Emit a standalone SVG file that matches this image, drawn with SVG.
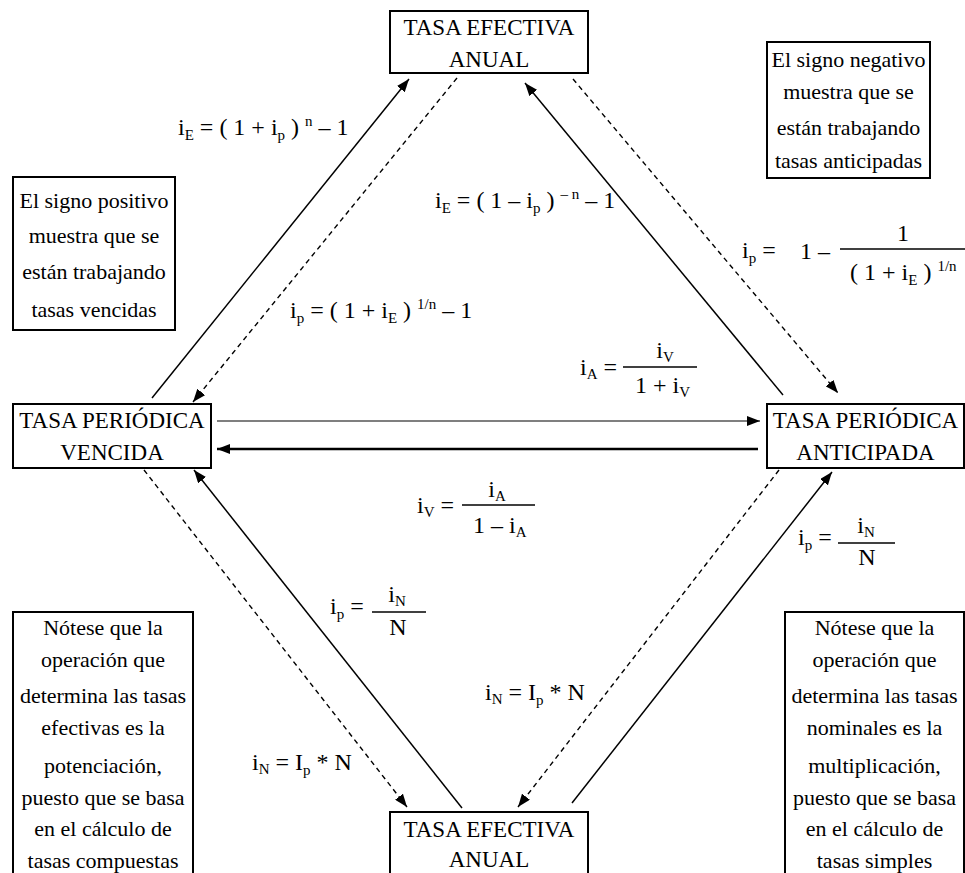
<svg xmlns="http://www.w3.org/2000/svg" width="965" height="873" viewBox="0 0 965 873" font-family="'Liberation Serif', 'Times New Roman', serif">
<style>
  text { font-family: "Liberation Serif", "Times New Roman", serif; fill: #000; }
  .box { fill: #fff; stroke: #000; stroke-width: 2; }
  .t { font-size: 23px; text-anchor: middle; }
  .n { font-size: 22px; text-anchor: middle; }
  .f { font-size: 24px; }
  .fm { font-size: 24px; text-anchor: middle; }
  .s { font-size: 15px; }
  .sol { stroke: #000; stroke-width: 1.5; fill: none; }
  .dash { stroke: #000; stroke-width: 1.4; stroke-dasharray: 5 4; fill: none; }
  .bar { stroke: #000; stroke-width: 1.6; }
</style>
<defs>
  <marker id="ah" markerUnits="userSpaceOnUse" markerWidth="13" markerHeight="10" refX="13" refY="5" orient="auto">
    <path d="M0,0 L13,5 L0,10 z" fill="#000"/>
  </marker>
</defs>
<rect width="965" height="873" fill="#fff"/>

<g id="connectors">
  <line class="sol" x1="152" y1="398" x2="409" y2="79" marker-end="url(#ah)"/>
  <line class="dash" x1="457" y1="78" x2="193" y2="402" marker-end="url(#ah)"/>
  <line class="sol" x1="783" y1="395" x2="525" y2="83" marker-end="url(#ah)"/>
  <line class="dash" x1="573" y1="79" x2="838" y2="393" marker-end="url(#ah)"/>
  <line x1="217" y1="421" x2="760" y2="421" stroke="#555" stroke-width="1.6" marker-end="url(#ah)"/>
  <line x1="758" y1="449" x2="217" y2="449" stroke="#000" stroke-width="2.6" marker-end="url(#ah)"/>
  <line class="dash" x1="144" y1="470" x2="407" y2="807" marker-end="url(#ah)"/>
  <line class="sol" x1="462" y1="808" x2="194" y2="470" marker-end="url(#ah)"/>
  <line class="dash" x1="779" y1="470" x2="518" y2="807" marker-end="url(#ah)"/>
  <line class="sol" x1="572" y1="803" x2="832" y2="472" marker-end="url(#ah)"/>
</g>

<g id="tasa-efectiva-anual-top">
  <rect class="box" x="390" y="11" width="198" height="62"/>
  <text class="t" x="489" y="35">TASA EFECTIVA</text>
  <text class="t" x="489" y="67">ANUAL</text>
</g>

<g id="tasa-periodica-vencida">
  <rect class="box" x="13" y="404" width="198" height="64"/>
  <text class="t" x="112" y="428">TASA PERIÓDICA</text>
  <text class="t" x="112" y="460">VENCIDA</text>
</g>

<g id="tasa-periodica-anticipada">
  <rect class="box" x="767" y="404" width="197" height="64"/>
  <text class="t" x="865.5" y="428">TASA PERIÓDICA</text>
  <text class="t" x="865.5" y="460">ANTICIPADA</text>
</g>

<g id="tasa-efectiva-anual-bottom">
  <rect class="box" x="390" y="812" width="198" height="70"/>
  <text class="t" x="489" y="837">TASA EFECTIVA</text>
  <text class="t" x="489" y="867">ANUAL</text>
</g>

<g id="nota-positivo">
  <rect class="box" x="13" y="177" width="162" height="153"/>
  <text class="n" x="94" y="208">El signo positivo</text>
  <text class="n" x="94" y="243">muestra que se</text>
  <text class="n" x="94" y="279">están trabajando</text>
  <text class="n" x="94" y="317">tasas vencidas</text>
</g>

<g id="nota-negativo">
  <rect class="box" x="767" y="42" width="163" height="136"/>
  <text class="n" x="848.5" y="67">El signo negativo</text>
  <text class="n" x="848.5" y="99">muestra que se</text>
  <text class="n" x="848.5" y="135">están trabajando</text>
  <text class="n" x="848.5" y="168">tasas anticipadas</text>
</g>

<g id="nota-potenciacion">
  <rect class="box" x="13" y="612" width="180" height="270"/>
  <text class="n" x="103" y="635">Nótese que la</text>
  <text class="n" x="103" y="667">operación que</text>
  <text class="n" x="103" y="703">determina las tasas</text>
  <text class="n" x="103" y="735">efectivas es la</text>
  <text class="n" x="103" y="773">potenciación,</text>
  <text class="n" x="103" y="805">puesto que se basa</text>
  <text class="n" x="103" y="836">en el cálculo de</text>
  <text class="n" x="103" y="868">tasas compuestas</text>
</g>

<g id="nota-multiplicacion">
  <rect class="box" x="785" y="612" width="179" height="270"/>
  <text class="n" x="874.5" y="635">Nótese que la</text>
  <text class="n" x="874.5" y="667">operación que</text>
  <text class="n" x="874.5" y="703">determina las tasas</text>
  <text class="n" x="874.5" y="735">nominales es la</text>
  <text class="n" x="874.5" y="773">multiplicación,</text>
  <text class="n" x="874.5" y="805">puesto que se basa</text>
  <text class="n" x="874.5" y="836">en el cálculo de</text>
  <text class="n" x="874.5" y="868">tasas simples</text>
</g>

<g id="formula-ie-vencida">
  <text class="f" x="178" y="135">i<tspan class="s" dy="5">E</tspan><tspan dy="-5"> = ( 1 + i</tspan><tspan class="s" dy="5">p</tspan><tspan dy="-5"> ) </tspan><tspan class="s" dy="-9">n</tspan><tspan dy="9"> – 1</tspan></text>
</g>

<g id="formula-ie-anticipada">
  <text class="f" x="435" y="208">i<tspan class="s" dy="5">E</tspan><tspan dy="-5"> = ( 1 – i</tspan><tspan class="s" dy="5">p</tspan><tspan dy="-5"> ) </tspan><tspan class="s" dy="-9">– n</tspan><tspan dy="9"> – 1</tspan></text>
</g>

<g id="formula-ip-vencida">
  <text class="f" x="290" y="318">i<tspan class="s" dy="5">p</tspan><tspan dy="-5"> = ( 1 + i</tspan><tspan class="s" dy="5">E</tspan><tspan dy="-5"> ) </tspan><tspan class="s" dy="-9">1/n</tspan><tspan dy="9"> – 1</tspan></text>
</g>

<g id="formula-ip-anticipada">
  <text class="f" x="742" y="258">i<tspan class="s" dy="5">p</tspan><tspan dy="-5"> =</tspan></text>
  <text class="f" x="800" y="259">1 –</text>
  <line class="bar" x1="840" y1="249" x2="965" y2="249"/>
  <text class="fm" x="903" y="241">1</text>
  <text class="f" x="850" y="280">( 1 + i<tspan class="s" dy="5">E</tspan><tspan dy="-5"> ) </tspan><tspan class="s" dy="-9">1/n</tspan></text>
</g>

<g id="formula-ia">
  <text class="f" x="580" y="375">i<tspan class="s" dy="4">A</tspan><tspan dy="-4"> =</tspan></text>
  <line class="bar" x1="623" y1="367" x2="697" y2="367"/>
  <text class="fm" x="665" y="358">i<tspan class="s" dy="4">V</tspan></text>
  <text class="f" x="635" y="393">1 + i<tspan class="s" dy="4">V</tspan></text>
</g>

<g id="formula-iv">
  <text class="f" x="417" y="513">i<tspan class="s" dy="4">V</tspan><tspan dy="-4"> =</tspan></text>
  <line class="bar" x1="462" y1="505" x2="535" y2="505"/>
  <text class="fm" x="497" y="497">i<tspan class="s" dy="4">A</tspan></text>
  <text class="f" x="473" y="533">1 – i<tspan class="s" dy="4">A</tspan></text>
</g>

<g id="formula-ip-nominal-izq">
  <text class="f" x="330" y="614">i<tspan class="s" dy="5">p</tspan><tspan dy="-5"> =</tspan></text>
  <line class="bar" x1="372" y1="612" x2="426" y2="612"/>
  <text class="fm" x="397" y="602">i<tspan class="s" dy="4">N</tspan></text>
  <text class="fm" x="398" y="635">N</text>
</g>

<g id="formula-ip-nominal-der">
  <text class="f" x="798" y="545">i<tspan class="s" dy="5">p</tspan><tspan dy="-5"> =</tspan></text>
  <line class="bar" x1="838" y1="543" x2="895" y2="543"/>
  <text class="fm" x="866" y="533">i<tspan class="s" dy="4">N</tspan></text>
  <text class="fm" x="867" y="565">N</text>
</g>

<g id="formula-in-izq">
  <text class="f" x="252" y="770">i<tspan class="s" dy="4">N</tspan><tspan dy="-4"> = I</tspan><tspan class="s" dy="5">p</tspan><tspan dy="-5"> * N</tspan></text>
</g>

<g id="formula-in-der">
  <text class="f" x="485" y="700">i<tspan class="s" dy="4">N</tspan><tspan dy="-4"> = I</tspan><tspan class="s" dy="5">p</tspan><tspan dy="-5"> * N</tspan></text>
</g>
</svg>
